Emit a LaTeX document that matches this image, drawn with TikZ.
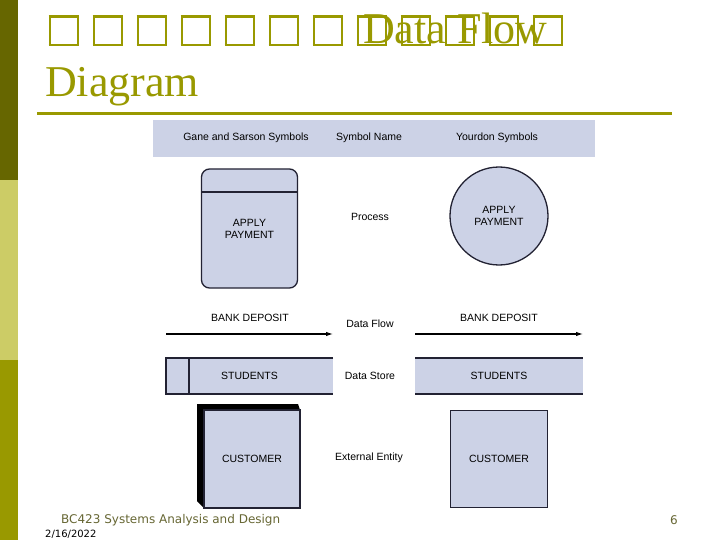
\documentclass[tikz,border=0pt]{standalone}
\usepackage{fontspec}
\setmainfont{Liberation Serif}
\newfontfamily\arialf{Liberation Sans}
\newfontfamily\footf{DejaVu Sans}
\usetikzlibrary{arrows.meta}
\definecolor{olivedark}{HTML}{666600}
\definecolor{olivelight}{HTML}{CCCC66}
\definecolor{olivemid}{HTML}{999900}
\definecolor{titlecol}{HTML}{999900}
\definecolor{symfill}{HTML}{CCD2E6}
\definecolor{symline}{HTML}{222233}
\definecolor{footcol}{HTML}{666633}
\newcommand{\tofuglyph}{\makebox[1em][l]{\hspace{0.08em}\fbox{\rule{0pt}{0.6em}\hspace{0.58em}}}}
\begin{document}
\begin{tikzpicture}[x=1pt,y=-1pt,
  lbl/.style={font=\arialf\fontsize{10.5}{12}\selectfont, text=black, inner sep=0pt, align=center},
  sym/.style={draw=symline, line width=1.3pt, fill=symfill, outer sep=0pt, inner sep=0pt,
              font=\arialf\fontsize{10.5}{12}\selectfont, align=center},
  storebox/.style={fill=symfill, outer sep=0pt, inner sep=0pt,
              font=\arialf\fontsize{10.5}{12}\selectfont},
  storeline/.style={draw=symline, line width=1.6pt},
  flow/.style={draw=black, line width=1.1pt, -{Latex[length=7pt,width=4.5pt]}},
  titletext/.style={font=\fontsize{44}{53}\selectfont, text=titlecol, inner sep=0pt, anchor=base west},
 ]
\useasboundingbox (0,0) rectangle (720,540);
% left bar
\fill[olivedark] (0,0) rectangle (18,180);
\fill[olivelight] (0,180) rectangle (18,360);
\fill[olivemid] (0,360) rectangle (18,540);
% title
\node[titletext] (title1) at (45,44) {\setlength\fboxsep{0pt}\setlength\fboxrule{2.5pt}\tofuglyph\tofuglyph\tofuglyph\tofuglyph\tofuglyph\tofuglyph\tofuglyph\tofuglyph\tofuglyph\tofuglyph\tofuglyph\tofuglyph};
\node[titletext] (title2) at (363,44) {Data Flow};
\node[titletext] (title3) at (45,97) {Diagram};
\draw[titlecol, line width=3pt] (37,114) -- (672,114);
% header
\node[fill=symfill, minimum width=442pt, minimum height=37pt, inner sep=0pt, outer sep=0pt] (hdr) at (374,138.5) {};
\node[lbl] (h1) at (246,138) {Gane and Sarson Symbols};
\node[lbl] (h2) at (369,138) {Symbol Name};
\node[lbl] (h3) at (497,138) {Yourdon Symbols};
% process
\node[sym, rounded corners=8pt, minimum width=96pt, minimum height=119pt] (gsproc) at (249.5,228.5) {APPLY\\PAYMENT};
\draw[symline, line width=1.3pt] ([yshift=-23pt]gsproc.north west) -- ([yshift=-23pt]gsproc.north east);
\node[lbl] (pname) at (370,217) {Process};
\node[sym, circle, minimum size=98pt] (yproc) at (499,216) {APPLY\\PAYMENT};
% data flow
\coordinate (dfL1) at (166,334);
\coordinate (dfL2) at (333,334);
\draw[flow] (dfL1) -- (dfL2);
\node[lbl] (bdL) at (250,318) {BANK DEPOSIT};
\node[lbl] (dfname) at (370,324) {Data Flow};
\coordinate (dfR1) at (415,334);
\coordinate (dfR2) at (583,334);
\draw[flow] (dfR1) -- (dfR2);
\node[lbl] (bdR) at (499,318) {BANK DEPOSIT};
% data store
\node[storebox, minimum width=167pt, minimum height=36pt] (dsL) at (249.5,376) {STUDENTS};
\draw[storeline] (dsL.north east) -- (dsL.north west) -- (dsL.south west) -- (dsL.south east);
\draw[storeline] ([xshift=23pt]dsL.north west) -- ([xshift=23pt]dsL.south west);
\node[lbl] (dsname) at (370,376) {Data Store};
\node[storebox, minimum width=168pt, minimum height=36pt] (dsR) at (499,376) {STUDENTS};
\draw[storeline] (dsR.north west) -- (dsR.north east);
\draw[storeline] (dsR.south west) -- (dsR.south east);
% external entity
\node[sym, minimum width=96pt, minimum height=98pt] (eeL) at (252,459) {CUSTOMER};
\fill[black] ([shift={(-7pt,6pt)}]eeL.north west) -- ([shift={(-2pt,6pt)}]eeL.north east) -- (eeL.north east) -- (eeL.south west) -- ([shift={(-7pt,7pt)}]eeL.south west) -- cycle;
\node[sym, minimum width=96pt, minimum height=98pt] at (252,459) {CUSTOMER};
\node[lbl] (eename) at (369,458) {External Entity};
\node[sym, minimum width=97pt, minimum height=97pt] (eeR) at (499,459) {CUSTOMER};
% footer
\node[font=\footf\fontsize{12}{14}\selectfont, text=footcol, anchor=west, inner sep=0pt] (foot) at (61,520) {BC423 Systems Analysis and Design};
\node[font=\footf\fontsize{10}{12}\selectfont, text=black, anchor=west, inner sep=0pt] (date) at (45,534) {2/16/2022};
\node[font=\footf\fontsize{12}{14}\selectfont, text=footcol, anchor=east, inner sep=0pt] (page) at (678,520) {6};
\end{tikzpicture}
\end{document}
